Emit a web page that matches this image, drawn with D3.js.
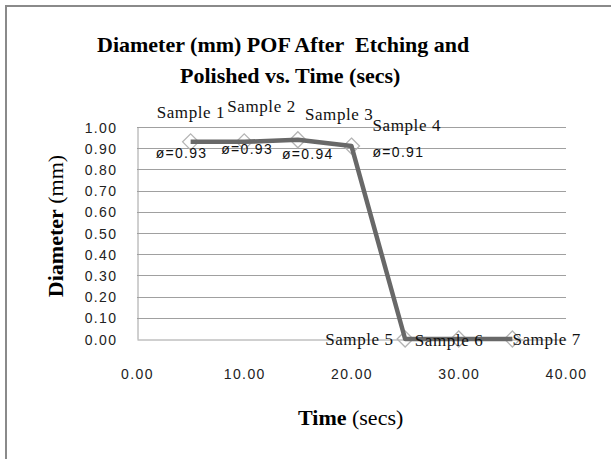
<!DOCTYPE html>
<html>
<head>
<meta charset="utf-8">
<script src="https://cdn.jsdelivr.net/npm/d3@7"></script>
<style>
  html, body { margin: 0; padding: 0; background: #fff; }
  svg { display: block; }
  text { white-space: pre; }
</style>
</head>
<body>
<svg id="chart" width="611" height="459"></svg>
<script>
// ---- data ----
const sampleNames = ["Sample 1", "Sample 2", "Sample 3", "Sample 4", "Sample 5", "Sample 6", "Sample 7"];
const timeSecs = [5, 10, 15, 20, 25, 30, 35];
const diameterMm = [0.93, 0.93, 0.94, 0.91, 0, 0, 0];
const diameterLabels = ["ø=0.93", "ø=0.93", "ø=0.94", "ø=0.91", null, null, null];
const yTicks = [0, 0.1, 0.2, 0.3, 0.4, 0.5, 0.6, 0.7, 0.8, 0.9, 1.0];
const xTicks = [0, 10, 20, 30, 40];
const titleLines = ["Diameter (mm) POF After  Etching and", "Polished vs. Time (secs)"];

// ---- layout (label offsets relative to each point) ----
const nameOffsets = [[-34, -24], [-17, -30], [7, -20], [21, -15], [-80, 6], [-44, 7], [0, 6]];
const valueOffsets = [[-35, 16], [-23, 12], [-16, 19], [21, 11]];

const svg = d3.select("#chart");
const x = d3.scaleLinear().domain([0, 40]).range([137, 566]);
const y = d3.scaleLinear().domain([0, 1]).range([339, 127]);

// outer border
svg.append("rect").attr("x", 6).attr("y", 6).attr("width", 700).attr("height", 600)
  .attr("fill", "none").attr("stroke", "#8a8a8a").attr("stroke-width", 2);

// title
svg.append("g").selectAll("text").data(titleLines).join("text")
  .attr("x", (d, i) => i === 0 ? 97 : 180)
  .attr("y", (d, i) => i === 0 ? 52 : 83)
  .attr("font-family", "Liberation Serif, Times New Roman, serif")
  .attr("font-weight", "bold").attr("font-size", 22).attr("fill", "#000")
  .text(d => d);

// gridlines
svg.append("g").selectAll("line").data(yTicks.filter(d => d > 0)).join("line")
  .attr("x1", x(0)).attr("x2", x(40))
  .attr("y1", d => Math.round(y(d)) + 0.5).attr("y2", d => Math.round(y(d)) + 0.5)
  .attr("stroke", "#a0a0a0").attr("stroke-width", 1);

// y axis
const yAxis = svg.append("g").attr("transform", `translate(${x(0) + 0.5},0)`)
  .call(d3.axisLeft(y).tickValues(yTicks).tickFormat(d3.format(".2f")).tickSize(0).tickPadding(20));
yAxis.select(".domain").attr("stroke", "#a0a0a0");
yAxis.selectAll("text").attr("font-family", "Liberation Sans, Arial, sans-serif")
  .attr("font-size", 14).attr("letter-spacing", "1.4px").attr("fill", "#222").attr("dy", "0.36em");

// x axis
const xAxis = svg.append("g").attr("transform", `translate(0,${Math.round(y(0)) + 0.5})`)
  .call(d3.axisBottom(x).tickValues(xTicks).tickFormat(d3.format(".2f")).tickSize(0).tickPadding(39));
xAxis.select(".domain").attr("stroke", "#a0a0a0");
xAxis.selectAll("text").attr("font-family", "Liberation Sans, Arial, sans-serif")
  .attr("font-size", 14).attr("letter-spacing", "1.4px").attr("fill", "#222").attr("dy", "0");

// axis titles
const xt = svg.append("text").attr("x", 298).attr("y", 425)
  .attr("font-family", "Liberation Serif, Times New Roman, serif").attr("font-size", 22).attr("fill", "#000");
xt.append("tspan").attr("font-weight", "bold").text("Time");
xt.append("tspan").text(" (secs)");

const yt = svg.append("text").attr("transform", "translate(63,226) rotate(-90)")
  .attr("text-anchor", "middle")
  .attr("font-family", "Liberation Serif, Times New Roman, serif").attr("font-size", 22).attr("fill", "#000");
yt.append("tspan").attr("font-weight", "bold").text("Diameter");
yt.append("tspan").text(" (mm)");

const points = timeSecs.map((t, i) => ({ t, d: diameterMm[i], name: sampleNames[i], label: diameterLabels[i], i }));

// markers
svg.append("g").selectAll("path").data(points).join("path")
  .attr("transform", p => `translate(${x(p.t)},${y(p.d)})`)
  .attr("d", "M0,-8L8,0L0,8L-8,0Z")
  .attr("fill", "none").attr("stroke", "#b4b4b4").attr("stroke-width", 1.3);

// line
svg.append("path").datum(points)
  .attr("d", d3.line().x(p => x(p.t)).y(p => y(p.d)))
  .attr("fill", "none").attr("stroke", "#686868").attr("stroke-width", 4.5)
  .attr("stroke-linejoin", "round");

// sample name labels
svg.append("g").selectAll("text").data(points).join("text")
  .attr("x", p => x(p.t) + nameOffsets[p.i][0])
  .attr("y", p => y(p.d) + nameOffsets[p.i][1])
  .attr("font-family", "Liberation Serif, Times New Roman, serif")
  .attr("font-size", 17).attr("letter-spacing", "0.6px").attr("fill", "#111")
  .text(p => p.name);

// diameter value labels
svg.append("g").selectAll("text").data(points.filter(p => p.label)).join("text")
  .attr("x", p => x(p.t) + valueOffsets[p.i][0])
  .attr("y", p => y(p.d) + valueOffsets[p.i][1])
  .attr("font-family", "Liberation Sans, Arial, sans-serif")
  .attr("font-size", 14).attr("letter-spacing", "1.3px").attr("fill", "#111")
  .text(p => p.label);
</script>
</body>
</html>
